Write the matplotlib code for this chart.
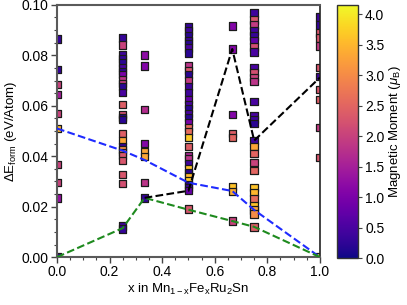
import matplotlib
matplotlib.use('Agg')
import matplotlib.pyplot as plt
import numpy as np
from matplotlib.ticker import MultipleLocator

plt.rcParams['font.family'] = ['Liberation Sans', 'DejaVu Sans']
plt.rcParams['mathtext.fontset'] = 'custom'
plt.rcParams['mathtext.rm'] = 'Liberation Sans'
plt.rcParams['mathtext.it'] = 'Liberation Sans:italic'

# formation energies (eV/atom) and magnetic moments (muB) per composition
x_000 = 0.0
e_000 = [0.0865, 0.0745, 0.0685, 0.0645, 0.057, 0.051, 0.0367, 0.0295, 0.0235, 0.0]
m_000 = [0.3, 0.3, 2.0, 1.5, 2.0, 3.5, 2.0, 2.0, 1.3, 0.3]

x_025 = 0.25
e_025 = [0.0869, 0.0841, 0.0801, 0.0785, 0.0769, 0.0753, 0.0737, 0.0725, 0.0705, 0.0689,
         0.0677, 0.0653, 0.0606, 0.0566, 0.0554, 0.0546, 0.049, 0.0462, 0.0438, 0.0426,
         0.0414, 0.0402, 0.0382, 0.0327, 0.0291, 0.0124, 0.0112]
m_025 = [0.3, 2.0, 0.4, 0.3, 0.2, 0.5, 0.2, 1.0, 1.8, 1.9,
         0.2, 0.5, 2.4, 2.2, 0.2, 0.2, 2.4, 3.3, 0.3, 3.0,
         2.8, 2.3, 2.3, 2.3, 2.2, 0.4, 0.3]

x_033 = 1 / 3
e_033 = [0.0801, 0.0757, 0.0586, 0.045, 0.0418, 0.0398, 0.0295, 0.0235]
m_033 = [1.2, 1.1, 1.7, 1.1, 3.3, 3.3, 1.8, 0.3]

x_050 = 0.5
e_050 = [0.0912, 0.0896, 0.0876, 0.086, 0.0845, 0.0829, 0.0809, 0.0757, 0.0741, 0.0725,
         0.0701, 0.0677, 0.0653, 0.0625, 0.0606, 0.059, 0.057, 0.0554, 0.0534, 0.0514,
         0.0498, 0.0474, 0.0438, 0.0402, 0.039, 0.037, 0.035, 0.0335, 0.0319, 0.0303,
         0.0287, 0.0275, 0.0263, 0.0191]
m_050 = [0.3, 0.4, 0.2, 0.4, 0.2, 0.5, 0.2, 1.8, 2.3, 0.2,
         1.9, 0.4, 0.4, 0.8, 0.5, 0.2, 0.5, 0.2, 1.0, 2.6,
         2.6, 3.7, 2.4, 1.6, 1.8, 0.4, 3.6, 0.2, 3.5, 3.7,
         0.2, 0.4, 0.8, 2.3]

x_067 = 2 / 3
e_067 = [0.0916, 0.0825, 0.0566, 0.049, 0.0474, 0.0279, 0.0259, 0.0143]
m_067 = [1.1, 1.1, 1.1, 2.4, 2.5, 3.6, 3.4, 2.0]

x_075 = 0.75
e_075 = [0.0968, 0.094, 0.092, 0.0896, 0.0876, 0.086, 0.0833, 0.0813, 0.0753, 0.0733,
         0.0713, 0.0697, 0.0618, 0.0562, 0.0546, 0.053, 0.0462, 0.0438, 0.041, 0.0375,
         0.0343, 0.0275, 0.0255, 0.0231, 0.0203, 0.0187, 0.0171, 0.012]
m_075 = [0.4, 2.3, 1.9, 0.4, 0.3, 0.7, 2.2, 0.5, 0.5, 2.2,
         2.0, 1.8, 0.5, 0.5, 0.4, 0.2, 0.4, 3.3, 2.5, 2.0,
         2.5, 3.6, 3.5, 2.6, 3.6, 3.3, 3.0, 2.4]

x_100 = 1.0
e_100 = [0.0952, 0.092, 0.0888, 0.0869, 0.0837, 0.0753, 0.0717, 0.0665, 0.0625, 0.0514,
         0.0394, 0.0]
m_100 = [0.4, 0.3, 2.3, 2.3, 1.9, 2.3, 0.4, 2.3, 2.4, 1.9,
         2.3, 4.1]

# dashed connecting lines
hull_x = [0.0, 0.25, 1 / 3, 0.5, 2 / 3, 0.75, 1.0]
blue_e = [0.051, 0.0422, 0.0385, 0.0295, 0.0262, 0.0187, 0.0]
green_e = [0.0, 0.0115, 0.0235, 0.0188, 0.0143, 0.012, 0.0]
black_x = [1 / 3, 0.5, 2 / 3, 0.75, 1.0]
black_e = [0.0235, 0.0263, 0.0825, 0.0462, 0.0712]

fig = plt.figure(figsize=(4.07, 3.05), dpi=100)
ax = fig.add_axes([0.140, 0.157, 0.646, 0.827])
cax = fig.add_axes([0.828, 0.154, 0.052, 0.830])

vmin, vmax = 0.0, 4.15
cols = [(x_000, e_000, m_000), (x_025, e_025, m_025), (x_033, e_033, m_033),
        (x_050, e_050, m_050), (x_067, e_067, m_067), (x_075, e_075, m_075),
        (x_100, e_100, m_100)]
for xc, ec, mc in cols:
    sc = ax.scatter([xc] * len(ec), ec, c=mc, cmap='plasma', vmin=vmin, vmax=vmax,
                    marker='s', s=28, edgecolors='#1a1a1a', linewidths=0.9, zorder=2)

ax.plot(hull_x, blue_e, '--', color='#1f2bff', lw=1.5, zorder=3)
ax.plot(hull_x, green_e, '--', color='#1e8a1e', lw=1.5, zorder=3)
ax.plot(black_x, black_e, '--', color='black', lw=1.5, zorder=3)

ax.set_xlim(0, 1)
ax.set_ylim(0, 0.1)
ax.xaxis.set_major_locator(MultipleLocator(0.2))
ax.xaxis.set_minor_locator(MultipleLocator(0.05))
ax.yaxis.set_major_locator(MultipleLocator(0.02))
ax.yaxis.set_minor_locator(MultipleLocator(0.005))
ax.xaxis.set_major_formatter(matplotlib.ticker.FormatStrFormatter('%.1f'))
ax.yaxis.set_major_formatter(matplotlib.ticker.FormatStrFormatter('%.2f'))
ax.tick_params(which='major', direction='out', length=4, width=1, colors='#444',
               labelcolor='black', labelsize=10, pad=2)
ax.tick_params(which='minor', direction='out', length=2, width=0.8, colors='#444')
for side in ['left', 'bottom', 'top']:
    ax.spines[side].set_color('#5a5a5a')
    ax.spines[side].set_linewidth(1.5)
ax.spines['right'].set_color('#222')
ax.spines['right'].set_linewidth(1.2)

ax.set_xlabel(r'x in Mn$_{\mathregular{1-x}}$Fe$_{\mathregular{x}}$Ru$_{\mathregular{2}}$Sn',
              fontsize=9.5, labelpad=2)
ax.set_ylabel(r'$\Delta$E$_{\mathregular{form}}$ (eV/Atom)', fontsize=9.5, labelpad=2)

cb = fig.colorbar(sc, cax=cax)
cb.set_ticks(np.arange(0, 4.01, 0.5))
cb.ax.yaxis.set_major_formatter(matplotlib.ticker.FormatStrFormatter('%.1f'))
cb.ax.tick_params(direction='out', length=3, width=0.8, colors='#444',
                  labelcolor='black', labelsize=10, pad=2)
cb.outline.set_edgecolor('#333')
cb.outline.set_linewidth(1.0)
cb.set_label(r'Magnetic Moment ($\mu_{\mathregular{B}}$)', fontsize=9.5, labelpad=2)

fig.savefig('out.png', dpi=100)
